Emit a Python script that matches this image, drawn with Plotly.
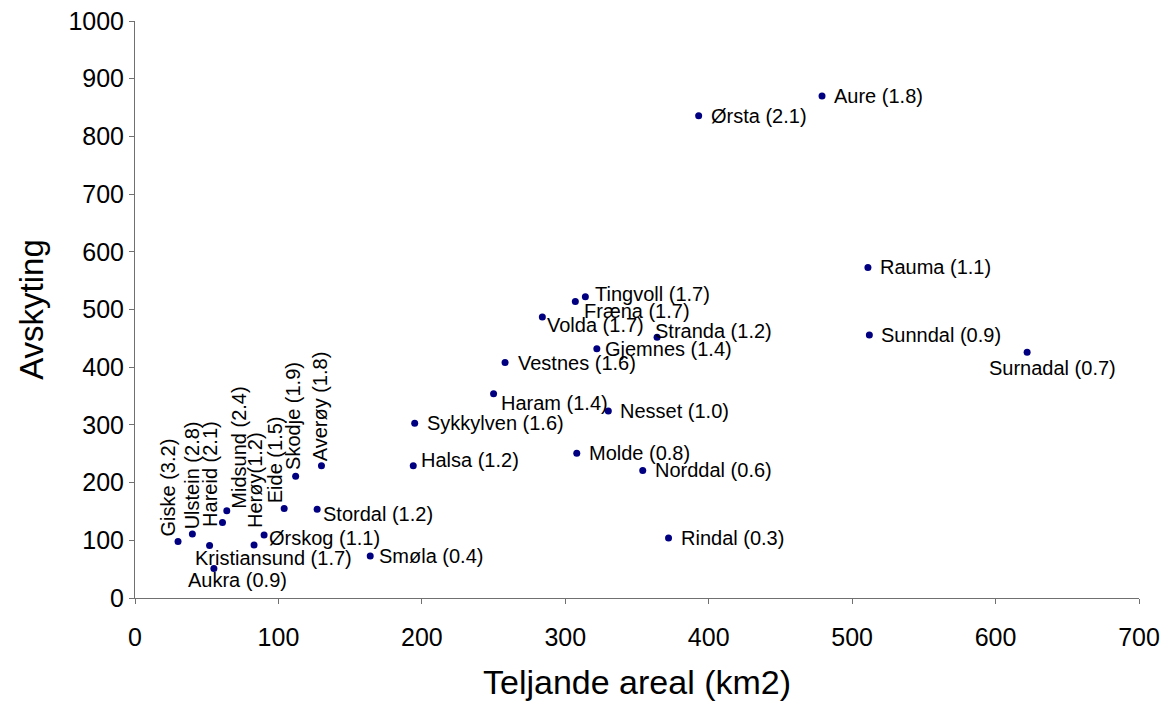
import plotly.graph_objects as go

# ---- data ----
labels = ["Aure (1.8)", "Ørsta (2.1)", "Rauma (1.1)", "Sunndal (0.9)", "Surnadal (0.7)",
          "Tingvoll (1.7)", "Fræna (1.7)", "Volda (1.7)", "Stranda (1.2)", "Gjemnes (1.4)",
          "Vestnes (1.6)", "Haram (1.4)", "Nesset (1.0)", "Sykkylven (1.6)", "Halsa (1.2)",
          "Molde (0.8)", "Norddal (0.6)", "Rindal (0.3)", "Smøla (0.4)", "Stordal (1.2)",
          "Ørskog (1.1)", "Kristiansund (1.7)", "Aukra (0.9)",
          "Giske (3.2)", "Ulstein (2.8)", "Hareid (2.1)", "Midsund (2.4)", "Herøy(1.2)",
          "Eide (1.5)", "Skodje (1.9)", "Averøy (1.8)"]
areal = [479, 393, 511, 512, 622,
         314, 307, 284, 364, 322,
         258, 250, 330, 195, 194,
         308, 354, 372, 164, 127,
         90, 52, 55,
         30, 40, 61, 64, 83,
         104, 112, 130]
avskyting = [870, 836, 573, 456, 426,
             522, 514, 487, 452, 432,
             408, 354, 324, 303, 229,
             251, 221, 104, 73, 154,
             109, 91, 51,
             98, 111, 131, 151, 92,
             155, 211, 229]

x_ticks = [0, 100, 200, 300, 400, 500, 600, 700]
y_ticks = [0, 100, 200, 300, 400, 500, 600, 700, 800, 900, 1000]

# ---- label placement (pixels): (mode, dx, dy) ----
# 'h': horizontal, left edge at dx, vertical centre dy below point
# 'v': rotated, box centre at dx, box bottom dy above point
place = {
    "Aure (1.8)": ("h", 10, 0), "Ørsta (2.1)": ("h", 10, 0), "Rauma (1.1)": ("h", 10, 0),
    "Sunndal (0.9)": ("h", 10, 0), "Surnadal (0.7)": ("h", -40, 16),
    "Tingvoll (1.7)": ("h", 8, -3), "Fræna (1.7)": ("h", 7, 10), "Volda (1.7)": ("h", 3, 8),
    "Stranda (1.2)": ("h", -4, -6), "Gjemnes (1.4)": ("h", 6, 0), "Vestnes (1.6)": ("h", 11, 0),
    "Haram (1.4)": ("h", 5, 9), "Nesset (1.0)": ("h", 10, 0), "Sykkylven (1.6)": ("h", 10, 0),
    "Halsa (1.2)": ("h", 6, -6), "Molde (0.8)": ("h", 10, 0), "Norddal (0.6)": ("h", 10, 0),
    "Rindal (0.3)": ("h", 10, 0), "Smøla (0.4)": ("h", 7, 0), "Stordal (1.2)": ("h", 4, 5),
    "Ørskog (1.1)": ("h", 3, 3), "Kristiansund (1.7)": ("h", -17, 13), "Aukra (0.9)": ("h", -28, 11),
    "Giske (3.2)": ("v", -10, 3), "Ulstein (2.8)": ("v", 0, 3), "Hareid (2.1)": ("v", -12, -6),
    "Midsund (2.4)": ("v", 12, 0), "Herøy(1.2)": ("v", 1, 15), "Eide (1.5)": ("v", -9, 3),
    "Skodje (1.9)": ("v", -2, 4), "Averøy (1.8)": ("v", -2, 3),
}

FONT = "Arial, 'Liberation Sans', sans-serif"
LABEL_SIZE = 20

fig = go.Figure()
fig.add_trace(go.Scatter(
    x=areal, y=avskyting, mode="markers",
    marker=dict(color="#000080", size=7),
    hoverinfo="text", text=labels, showlegend=False,
))

anns = []
for lab, xv, yv in zip(labels, areal, avskyting):
    mode, dx, dy = place[lab]
    if mode == "h":
        anns.append(dict(x=xv, y=yv, xref="x", yref="y", text=lab, showarrow=False,
                         xanchor="left", yanchor="middle", xshift=dx, yshift=-dy,
                         font=dict(family=FONT, size=LABEL_SIZE, color="black")))
    else:
        anns.append(dict(x=xv, y=yv, xref="x", yref="y", text=lab, showarrow=False,
                         textangle=-90, xanchor="center", yanchor="bottom",
                         xshift=dx, yshift=dy,
                         font=dict(family=FONT, size=LABEL_SIZE, color="black")))

fig.update_layout(
    width=1161, height=694,
    margin=dict(l=127, r=30, t=13, b=104, autoexpand=False),
    paper_bgcolor="white", plot_bgcolor="white",
    font=dict(family=FONT, color="black"),
    annotations=anns,
    xaxis=dict(range=[0, 700], tickvals=x_ticks, ticktext=[str(v) for v in x_ticks],
               showgrid=False, zeroline=False, showline=True, linecolor="#707070", linewidth=1,
               ticks="outside", ticklen=5, tickcolor="#707070",
               tickfont=dict(size=25, family=FONT), ticklabelstandoff=12,
               ticklabeloverflow="allow", automargin=False,
               title=dict(text="Teljande areal (km2)", font=dict(size=34, family=FONT), standoff=20)),
    yaxis=dict(range=[0, 1000], tickvals=y_ticks, ticktext=[str(v) for v in y_ticks],
               showgrid=False, zeroline=False, showline=True, linecolor="#707070", linewidth=1,
               ticks="outside", ticklen=5, tickcolor="#707070",
               tickfont=dict(size=25, family=FONT), ticklabelstandoff=0,
               ticklabeloverflow="allow", automargin=False,
               title=dict(text="Avskyting", font=dict(size=33, family=FONT), standoff=14)),
)

fig.write_html("out.html")
